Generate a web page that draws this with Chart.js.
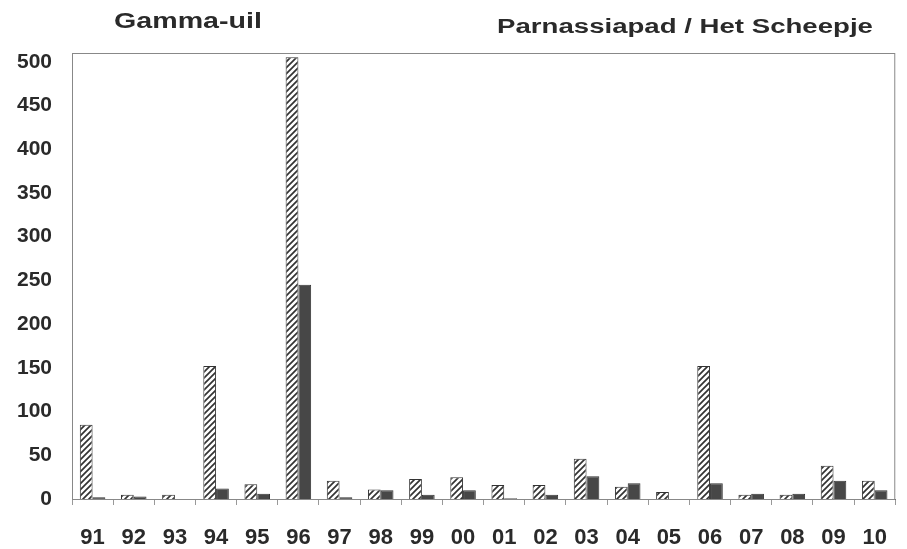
<!DOCTYPE html>
<html>
<head>
<meta charset="utf-8">
<script src="https://cdn.jsdelivr.net/npm/chart.js@4"></script>
<style>
  body { margin: 0; background: #fff; }
  #wrap { width: 907px; height: 549px; }
</style>
</head>
<body>
<div id="wrap"><canvas id="myChart" width="907" height="549"></canvas></div>
<script>
const years = ['91', '92', '93', '94', '95', '96', '97', '98', '99', '00',
               '01', '02', '03', '04', '05', '06', '07', '08', '09', '10'];
const hatchedValues = [85, 5, 5, 152, 17, 505, 21, 11, 23, 25, 16, 16, 46, 14, 8, 152, 5, 5, 38, 21];
const darkValues = [2, 3, 0, 12, 6, 245, 2, 10, 5, 10, 1, 5, 26, 18, 0, 18, 6, 6, 21, 10];
const yTicks = [0, 50, 100, 150, 200, 250, 300, 350, 400, 450, 500];
const titleLeft = 'Gamma-uil';
const titleRight = 'Parnassiapad / Het Scheepje';

// diagonal hatch "////"
function makeHatch(){
    let c = document.createElement('canvas');
    c.width = 6; c.height = 6;
    let g = c.getContext('2d');
    g.fillStyle = '#fff';
    g.fillRect(0, 0, 6, 6);
    g.strokeStyle = '#333';
    g.lineWidth = 1.7;
    g.beginPath();
    g.moveTo(0, 6); g.lineTo(6, 0);
    g.moveTo(-3, 3); g.lineTo(3, -3);
    g.moveTo(3, 9); g.lineTo(9, 3);
    g.stroke();
    return g.createPattern(c, 'repeat');
}

const boxAndTitles = {
    id: 'boxAndTitles',
    afterDraw(chart){
        const ctx = chart.ctx;
        const a = chart.chartArea;
        ctx.save();
        ctx.strokeStyle = '#888';
        ctx.lineWidth = 1;
        ctx.strokeRect(a.left + 0.5, a.top + 0.5, a.right - a.left - 1, a.bottom - a.top);
        ctx.fillStyle = '#2a2a2a';
        ctx.textAlign = 'center';
        ctx.textBaseline = 'middle';
        ctx.save();
        ctx.font = 'bold 22px "Liberation Sans", Arial, sans-serif';
        ctx.translate(188, 22);
        ctx.scale(1.3, 1);
        ctx.fillText(titleLeft, 0, 0);
        ctx.restore();
        ctx.save();
        ctx.font = 'bold 20px "Liberation Sans", Arial, sans-serif';
        ctx.translate(685, 27);
        ctx.scale(1.38, 1);
        ctx.fillText(titleRight, 0, 0);
        ctx.restore();
        ctx.restore();
    }
};

const ctx = document.getElementById('myChart').getContext('2d');
const data = {
    labels: years,
    datasets: [{
        data: hatchedValues,
        backgroundColor: makeHatch(),
        borderColor: '#333',
        borderWidth: 1
    }, {
        data: darkValues,
        backgroundColor: '#474747',
        borderColor: '#333',
        borderWidth: 1
    }]
};
const options = {
    responsive: false,
    animation: false,
    layout: { padding: { top: 53, right: 3, left: 0, bottom: 0 } },
    plugins: {
        legend: { display: false },
        tooltip: { enabled: false }
    },
    datasets: {
        bar: { categoryPercentage: 0.62, barPercentage: 1 }
    },
    scales: {
        x: {
            grid: {
                offset: true,
                drawOnChartArea: false,
                drawTicks: true,
                tickLength: 6,
                color: '#999'
            },
            border: { color: '#666' },
            ticks: {
                color: '#2a2a2a',
                padding: 20,
                maxRotation: 0,
                autoSkip: false,
                font: { family: '"Liberation Sans", Arial, sans-serif', size: 22, weight: 'bold' }
            },
            afterFit(scale){ scale.height = 50; }
        },
        y: {
            min: 0,
            max: 510,
            afterBuildTicks(scale){ scale.ticks = yTicks.map(v => ({ value: v })); },
            grid: { display: false, drawTicks: false },
            border: { color: '#666' },
            ticks: {
                color: '#2a2a2a',
                padding: 20,
                font: { family: '"Liberation Sans", Arial, sans-serif', size: 21, weight: 'bold' }
            },
            afterFit(scale){ scale.width = 72; }
        }
    }
};

let config = {
    type: 'bar',
    data: data,
    options: options,
    plugins: [boxAndTitles]
};

let graph = new Chart(ctx, config);
</script>
</body>
</html>
